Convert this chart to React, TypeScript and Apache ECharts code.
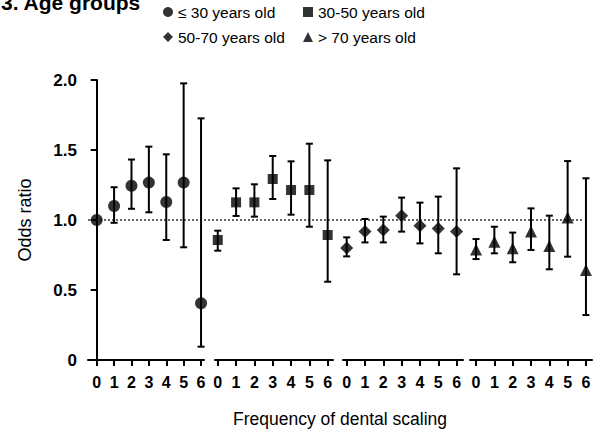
import React, { useEffect, useRef } from "react";
import * as echarts from "echarts";

const FONT = "'Liberation Sans', Arial, sans-serif";

const frequencies = [0, 1, 2, 3, 4, 5, 6];
const groupNames = ["≤ 30 years old", "30-50 years old", "50-70 years old", "> 70 years old"];
const groupSymbols = ["circle", "rect", "diamond", "triangle"];
const groupSymbolSizes: (number | number[])[] = [12, 10, [13, 13], [12, 12]];

// Odds ratios and 95% CI per age group (frequency of dental scaling 0..6)
const or30 = [1.0, 1.1, 1.245, 1.267, 1.129, 1.267, 0.405];
const lo30 = [null, 0.98, 1.08, 1.055, 0.857, 0.805, 0.095];
const hi30 = [null, 1.234, 1.432, 1.524, 1.469, 1.976, 1.726];

const or3050 = [0.857, 1.126, 1.126, 1.293, 1.214, 1.214, 0.893];
const lo3050 = [0.781, 1.029, 1.024, 1.15, 1.038, 0.952, 0.559];
const hi3050 = [0.924, 1.226, 1.255, 1.457, 1.419, 1.545, 1.426];

const or5070 = [0.8, 0.917, 0.929, 1.031, 0.959, 0.94, 0.917];
const lo5070 = [0.74, 0.84, 0.84, 0.917, 0.833, 0.762, 0.612];
const hi5070 = [0.876, 1.007, 1.024, 1.16, 1.124, 1.167, 1.369];

const or70 = [0.79, 0.845, 0.798, 0.917, 0.814, 1.017, 0.643];
const lo70 = [0.721, 0.762, 0.698, 0.786, 0.648, 0.738, 0.321];
const hi70 = [0.864, 0.952, 0.91, 1.083, 1.031, 1.421, 1.298];

const yTicks = [0, 0.5, 1.0, 1.5, 2.0];
const referenceOR = 1.0;

const groupOR = [or30, or3050, or5070, or70];
const groupLo = [lo30, lo3050, lo5070, lo70];
const groupHi = [hi30, hi3050, hi5070, hi70];

// layout of the four panels (pixels) and their x ranges
const panels = [
  { left: 88, width: 116, min: -0.5, max: 6.17 },
  { left: 215, width: 118, min: -0.15, max: 6.29 },
  { left: 343, width: 120, min: -0.2, max: 6.35 },
  { left: 470, width: 122, min: -0.33, max: 6.33 },
];

// legend slot positions (2 x 2)
const legendSlots = [
  { left: 158, top: -1 },
  { left: 298, top: -1 },
  { left: 158, top: 24 },
  { left: 298, top: 24 },
];

export default function App() {
  const ref = useRef<HTMLDivElement>(null);

  useEffect(() => {
    if (!ref.current) return;
    const chart = echarts.init(ref.current, undefined, { renderer: "svg" });

    const grids = panels.map((p) => ({ left: p.left, width: p.width, top: 80, height: 280, containLabel: false }));

    const xAxes = panels.map((p, i) => ({
      type: "value",
      gridIndex: i,
      min: p.min,
      max: p.max,
      splitLine: { show: false },
      axisLine: { show: true, lineStyle: { color: "#000", width: 2 } },
      axisTick: { show: true, length: 6, customValues: frequencies, lineStyle: { color: "#000", width: 2 } },
      axisLabel: {
        show: true,
        customValues: frequencies,
        color: "#000",
        fontFamily: FONT,
        fontSize: 16,
        fontWeight: "bold",
        margin: 14,
        formatter: (v: number) => String(Math.round(v)),
      },
    }));

    const yAxes = panels.map((p, i) => ({
      type: "value",
      gridIndex: i,
      min: 0,
      max: 2,
      interval: 0.5,
      show: i === 0,
      name: i === 0 ? "Odds ratio" : "",
      nameLocation: "middle",
      nameGap: 54,
      nameTextStyle: { color: "#000", fontFamily: FONT, fontSize: 18 },
      splitLine: { show: false },
      axisLine: { show: true, lineStyle: { color: "#000", width: 2 } },
      axisTick: { show: true, length: 6, lineStyle: { color: "#000", width: 2 } },
      axisLabel: {
        color: "#000",
        fontFamily: FONT,
        fontSize: 17,
        fontWeight: "bold",
        margin: 11,
        customValues: yTicks,
        formatter: (v: number) => (v === 0 ? "0" : v.toFixed(1)),
      },
    }));

    const series: any[] = [];
    groupNames.forEach((name, i) => {
      const errData = frequencies
        .map((f, k) => [f, groupLo[i][k], groupHi[i][k]])
        .filter((d) => d[1] !== null && d[2] !== null);
      series.push({
        type: "custom",
        name: name + " CI",
        xAxisIndex: i,
        yAxisIndex: i,
        z: 2,
        silent: true,
        data: errData,
        renderItem: (params: any, api: any) => {
          const x = api.value(0);
          const p1 = api.coord([x, api.value(1)]);
          const p2 = api.coord([x, api.value(2)]);
          const cap = 3.5;
          const style = { stroke: "#000", lineWidth: 2 };
          return {
            type: "group",
            children: [
              { type: "line", shape: { x1: p1[0], y1: p1[1], x2: p2[0], y2: p2[1] }, style },
              { type: "line", shape: { x1: p1[0] - cap, y1: p1[1], x2: p1[0] + cap, y2: p1[1] }, style },
              { type: "line", shape: { x1: p2[0] - cap, y1: p2[1], x2: p2[0] + cap, y2: p2[1] }, style },
            ],
          };
        },
      });
      series.push({
        type: "scatter",
        name,
        xAxisIndex: i,
        yAxisIndex: i,
        z: 5,
        symbol: groupSymbols[i],
        symbolSize: groupSymbolSizes[i],
        itemStyle: { color: "#000" },
        data: frequencies.map((f, k) => [f, groupOR[i][k]]),
      });
    });

    const legends = groupNames.map((name, i) => ({
      orient: "horizontal",
      left: legendSlots[i].left,
      top: legendSlots[i].top,
      itemWidth: 10,
      itemHeight: 10,
      itemGap: 0,
      textStyle: { color: "#000", fontFamily: FONT, fontSize: 15.5 },
      selectedMode: false,
      data: [name],
    }));

    chart.setOption({
      animation: false,
      backgroundColor: "#fff",
      title: {
        text: "3. Age groups",
        left: -4,
        top: -13,
        textStyle: { color: "#000", fontFamily: FONT, fontSize: 21, fontWeight: "bold" },
      },
      legend: legends,
      grid: grids,
      xAxis: xAxes,
      yAxis: yAxes,
      series,
    });

    // dotted reference line at OR = 1 spanning all panels
    const yRef = chart.convertToPixel({ yAxisIndex: 0 }, referenceOR) as number;
    const xStart = chart.convertToPixel({ xAxisIndex: 0 }, panels[0].min) as number;
    const xEnd = chart.convertToPixel({ xAxisIndex: 3 }, 5.8) as number;
    const xMid = ((chart.convertToPixel({ xAxisIndex: 0 }, panels[0].min) as number) +
      (chart.convertToPixel({ xAxisIndex: 3 }, panels[3].max) as number)) / 2;
    chart.setOption({
      graphic: [
        {
          type: "line",
          z: 1,
          silent: true,
          shape: { x1: xStart, y1: yRef, x2: xEnd, y2: yRef },
          style: { stroke: "#333", lineWidth: 1.5, lineDash: [2, 2] },
        },
        {
          type: "text",
          x: xMid,
          y: 419,
          style: {
            text: "Frequency of dental scaling",
            fill: "#000",
            font: `17.5px ${FONT}`,
            textAlign: "center",
            textVerticalAlign: "middle",
          },
        },
      ],
    });

    return () => chart.dispose();
  }, []);

  return (
    <div
      ref={ref}
      style={{ position: "fixed", left: 0, top: 0, width: 603, height: 435, background: "#fff" }}
    />
  );
}
